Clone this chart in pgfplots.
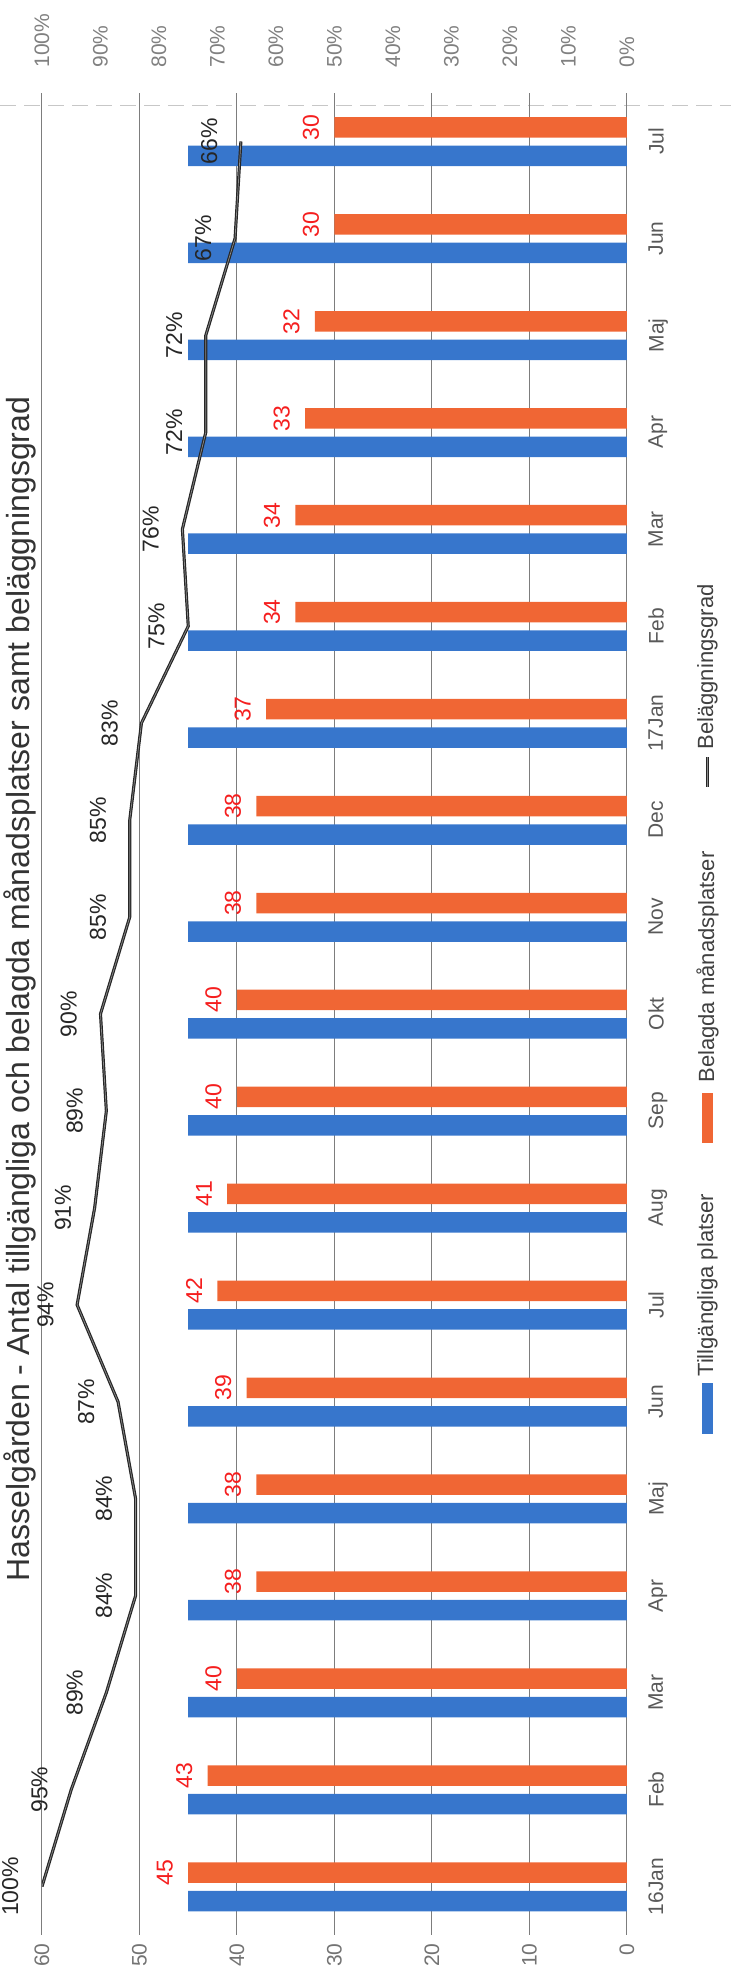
\documentclass[border=0pt]{standalone}
\usepackage{fontspec}
\setmainfont{Liberation Sans}
\usepackage{pgfplots}
\pgfplotsset{compat=1.18}
\usepackage{pgfplotstable}

\definecolor{tillg}{RGB}{55,118,204}
\definecolor{belagd}{RGB}{240,102,52}
\definecolor{etikett}{RGB}{245,30,30}
\definecolor{rutnat}{RGB}{125,125,125}

% idx: 0 = 16Jan ... 18 = Jul (2017)
\pgfplotstableread{
idx tillg belagd grad
0  45 45 100
1  45 43 95
2  45 40 89
3  45 38 84
4  45 38 84
5  45 39 87
6  45 42 94
7  45 41 91
8  45 40 89
9  45 40 90
10 45 38 85
11 45 38 85
12 45 37 83
13 45 34 75
14 45 34 76
15 45 33 72
16 45 32 72
17 45 30 67
18 45 30 66
}\data

\pgfplotsset{/pgf/number format/assume math mode=true}

\tikzset{
  linjestil/.style={black!85, line width=0.6pt, double=black!45, double distance=0.35pt},
  legendtext/.style={rotate=90, anchor=west, inner sep=0pt,
    font=\fontsize{11}{13}\selectfont, text=black!75},
}

\begin{document}
\begin{tikzpicture}
\useasboundingbox (0,0) rectangle (365.5pt,988.5pt);

% titeln
\node[rotate=90, anchor=base, inner sep=0pt, text=black!80,
      font=\fontsize{16}{18}\selectfont] at (15pt,494pt)
  {Hasselgården - Antal tillgängliga och belagda månadsplatser samt beläggningsgrad};

\draw[black!22, dash pattern=on 8pt off 4pt, line width=0.4pt] (0,936pt) -- (365.5pt,936pt);

\begin{axis}[
  at={(21pt,21pt)}, anchor=south west,
  scale only axis, width=292.5pt, height=921pt,
  xbar, bar width=10.25pt,
  xmin=0, xmax=60, x dir=reverse,
  ymin=-0.5, ymax=18.5,
  xtick={0,10,...,60}, ytick={0,...,18},
  yticklabels={16Jan,Feb,Mar,Apr,Maj,Jun,Jul,Aug,Sep,Okt,Nov,Dec,17Jan,Feb,Mar,Apr,Maj,Jun,Jul},
  xmajorgrids, grid style={rutnat, line width=0.5pt},
  axis line style={draw=none},
  major tick length=0pt,
  xticklabel pos=left,
  yticklabel pos=right,
  xticklabel style={rotate=90, anchor=east, inner sep=0pt,
    font=\fontsize{10.5}{12}\selectfont, text=black!55},
  xticklabel shift=4pt,
  yticklabel style={rotate=90, anchor=north, inner sep=0pt,
    font=\fontsize{10.5}{12}\selectfont, text=black!65},
  yticklabel shift=10.5pt,
]
\addplot[fill=tillg, draw=none, bar shift=-7.25pt] table[x=tillg, y=idx]{\data};
\addplot[fill=belagd, draw=none, bar shift=7pt,
  nodes near coords, point meta=x,
  nodes near coords style={rotate=90, anchor=south, inner xsep=0pt, inner ysep=7.5pt,
    font=\fontsize{11.5}{13}\selectfont, text=etikett}]
  table[x=belagd, y=idx]{\data};
\end{axis}

\begin{axis}[
  at={(21pt,21pt)}, anchor=south west,
  scale only axis, width=292.5pt, height=921pt,
  xmin=0, xmax=100, x dir=reverse,
  ymin=-0.5, ymax=18.5,
  xtick={0,10,...,100}, ytick=\empty,
  xticklabel pos=right,
  xticklabel={\pgfmathprintnumber{\tick}\%},
  xticklabel style={rotate=90, anchor=west, inner sep=0pt,
    font=\fontsize{10.5}{12}\selectfont, text=black!50},
  xticklabel shift=12.5pt,
  axis line style={draw=none}, major tick length=0pt,
]
\addplot[linjestil,
  nodes near coords={\pgfmathprintnumber{\pgfplotspointmeta}\%}, point meta=x,
  nodes near coords style={rotate=90, anchor=south, inner xsep=0pt, inner ysep=11.5pt,
    font=\fontsize{11.5}{13}\selectfont, text=black!85}]
  table[x=grad, y=idx]{\data};
\end{axis}

% teckenforklaring, vriden som diagrammet
\fill[tillg] (351pt,271.5pt) rectangle (356.5pt,297pt);
\node[legendtext] at (353.75pt,300pt) {Tillgängliga platser};
\fill[belagd] (351pt,417pt) rectangle (356.5pt,442pt);
\node[legendtext] at (353.75pt,447pt) {Belagda månadsplatser};
\draw[linjestil] (353.75pt,595pt) -- (353.75pt,610pt);
\node[legendtext] at (353.75pt,613.5pt) {Beläggningsgrad};
\end{tikzpicture}
\end{document}
